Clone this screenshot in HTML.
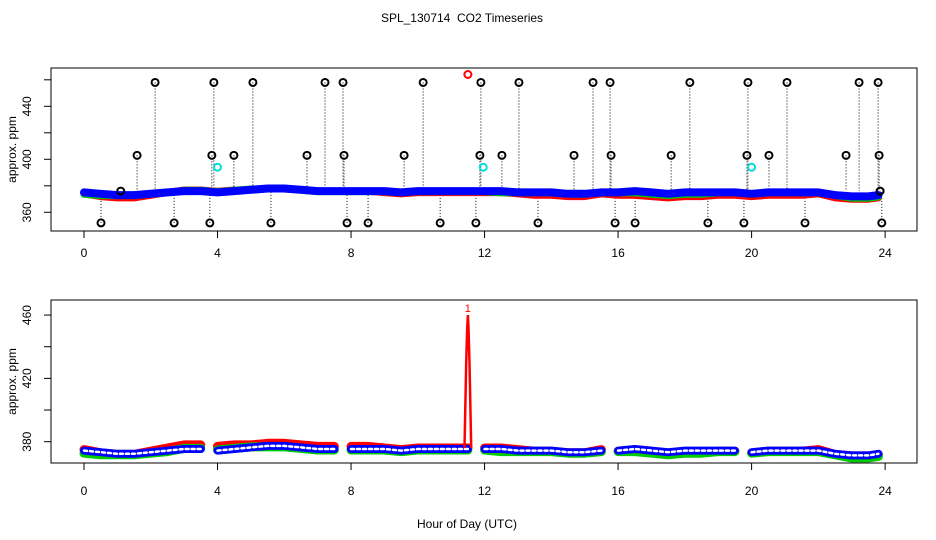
<!DOCTYPE html>
<html><head><meta charset="utf-8"><style>
html,body{margin:0;padding:0;background:#fff;}
svg{display:block;font-family:"Liberation Sans",Arial,sans-serif;}
</style></head><body>
<svg id="chart" width="936" height="540" viewBox="0 0 936 540">
<rect x="0" y="0" width="936" height="540" fill="#fff"/>
<text x="462" y="22" font-size="12" text-anchor="middle" style="white-space:pre">SPL_130714  CO2 Timeseries</text>
<text x="467" y="528" font-size="12" text-anchor="middle">Hour of Day (UTC)</text>
<g id="topPanel"></g>
<g id="botPanel"></g>
</svg>
<script>
var hours=[0,0.5,1,1.5,2,2.5,3,3.5,4,4.5,5,5.5,6,6.5,7,7.5,8,8.5,9,9.5,10,10.5,11,11.5,12,12.5,13,13.5,14,14.5,15,15.5,16,16.5,17,17.5,18,18.5,19,19.5,20,20.5,21,21.5,22,22.5,23,23.5,23.8];
var blueVals=[375,374,373,373,374,375,376,376,375,376,377,378,378,377,376,376,376,376,376,375,376,376,376,376,376,376,375,375,375,374,374,375,375,376,375,374,375,375,375,375,374,375,375,375,375,373,372,372,373];
var redVals=[375,373,372,372,374,376,378,378,377,378,378,379,379,378,377,377,377,377,376,375,376,376,376,376,376,376,375,374,374,373,373,375,374,374,373,372,373,373,374,374,373,374,374,374,375,372,371,371,372];
var greenVals=[374,373,373,373,374,375,377,377,376,377,378,378,378,377,376,376,376,376,376,375,376,376,376,376,376,375,375,375,375,374,374,375,375,375,374,373,374,374,375,375,374,375,375,375,375,373,371,371,372];
var outHours=[2.13,3.89,5.06,7.22,7.76,10.16,11.89,13.03,15.25,15.76,18.15,19.89,21.06,23.22,23.79,1.59,3.83,4.49,6.68,7.79,9.59,11.86,12.52,14.68,15.79,17.59,19.86,20.52,22.83,23.82,0.51,2.70,3.77,5.60,7.88,8.51,10.67,11.74,13.6,15.91,16.51,18.69,19.77,21.6,23.9,1.1,23.85];
var outVals=[458,458,458,458,458,458,458,458,458,458,458,458,458,458,458,403,403,403,403,403,403,403,403,403,403,403,403,403,403,403,352,352,352,352,352,352,352,352,352,352,352,352,352,352,352,376,376];
var cyanHours=[4.0,11.96,20.0];
var cyanVals=[394,394,394];
var redOutHours=[11.5];
var redOutVals=[464];
var gapHours=[3.9,7.9,11.8,15.9,19.9];
var spikeHours=[11.4,11.45,11.48,11.5,11.52,11.55,11.6];
var spikeVals=[376,430,452,460,452,430,376];
var xTicks=[0,4,8,12,16,20,24];
var topYTicks=[360,380,400,420,440,460];
var topYLabels=["360","","400","","440",""];
var botYTicks=[380,400,420,440,460];
var botYLabels=["380","","420","","460"];

var NS="http://www.w3.org/2000/svg";
function mk(tag,attrs,parent){var e=document.createElementNS(NS,tag);for(var k in attrs)e.setAttribute(k,attrs[k]);parent.appendChild(e);return e;}
function xs(h){return 84+h*33.38;}
function topY(v){return 212.3-(v-360)*1.325;}
function botY(v){return 441.7-(v-380)*1.583;}

function axes(g,y0,y1,ys,ticks,labels,labelY){
  var b=mk('rect',{x:51,y:y0,width:866,height:y1-y0,fill:'none',stroke:'#000','stroke-width':1},g);
  
  
  xTicks.forEach(function(t){
    var l=mk('line',{x1:xs(t),x2:xs(t),y1:y1,y2:y1+7,stroke:'#000'},g);
    
    
    var tx=mk('text',{x:xs(t),y:labelY,'font-size':12,'text-anchor':'middle'},g);
    
    
    tx.textContent=String(t);
  });
  ticks.forEach(function(t,i){
    var y=ys(t);
    var l=mk('line',{x1:44,x2:51,y1:y,y2:y,stroke:'#000'},g);
    
    
    if(labels[i]){
      var tx=mk('text',{x:31,y:y,'font-size':12,'text-anchor':'middle',transform:'rotate(-90 31 '+y+')'},g);
      
      
      tx.textContent=labels[i];
    }
  });
  var yt=mk('text',{x:16,y:(y0+y1)/2,'font-size':12,'text-anchor':'middle',transform:'rotate(-90 16 '+((y0+y1)/2)+')'},g);
  
  
  yt.textContent='approx. ppm';
}

function series(g,vals,ys,color,w,offset,breaks,name,dash){
  var segs=[[]];
  for(var i=0;i<hours.length;i++){
    if(breaks&&i>0){for(var j=0;j<gapHours.length;j++){if(hours[i-1]<gapHours[j]&&hours[i]>=gapHours[j]){segs.push([]);}}}
    segs[segs.length-1].push(xs(hours[i]).toFixed(1)+','+(ys(vals[i])+offset).toFixed(1));
  }
  segs.forEach(function(s){
    var at={points:s.join(' '),fill:'none',stroke:color,'stroke-width':w,'stroke-linejoin':'round','stroke-linecap':'round'};
    if(dash)at['stroke-dasharray']=dash;
    var p=mk('polyline',at,g);
    
    
  });
}

var topG=document.getElementById('topPanel');
axes(topG,68,231,topY,topYTicks,topYLabels,257);
for(var i=0;i<outHours.length;i++){
  var x=xs(outHours[i]);
  var ln=mk('line',{x1:x,x2:x,y1:topY(outVals[i]),y2:topY(376),stroke:'#000','stroke-width':1,'stroke-dasharray':'1,2'},topG);
  
  
}
series(topG,redVals,topY,'#f00',7,1.5,false,'red-series');
series(topG,greenVals,topY,'#0c0',7,0.5,false,'green-series');
series(topG,blueVals,topY,'#00f',8,0,false,'blue-series');
for(var i=0;i<outHours.length;i++){
  var c=mk('circle',{cx:xs(outHours[i]),cy:topY(outVals[i]),r:3.5,fill:'none',stroke:'#000','stroke-width':2},topG);
  
  
}
for(var i=0;i<cyanHours.length;i++){
  var c=mk('circle',{cx:xs(cyanHours[i]),cy:topY(cyanVals[i]),r:3.5,fill:'none',stroke:'#0dd','stroke-width':2},topG);
  
  
}
for(var i=0;i<redOutHours.length;i++){
  var c=mk('circle',{cx:xs(redOutHours[i]),cy:topY(redOutVals[i]),r:3.5,fill:'none',stroke:'#f00','stroke-width':2},topG);
  
  
}

var botG=document.getElementById('botPanel');
axes(botG,300,463,botY,botYTicks,botYLabels,495);
series(botG,redVals,botY,'#f00',9,0,true,'red-series');
series(botG,greenVals,botY,'#0c0',9,2,true,'green-series');
series(botG,blueVals,botY,'#00f',8,1,true,'blue-series');
series(botG,blueVals,botY,'#fff',2.5,1,true,'blue-series-core','3,3');
var sp=[];
for(var i=0;i<spikeHours.length;i++){sp.push(xs(spikeHours[i]).toFixed(1)+','+botY(spikeVals[i]).toFixed(1));}
var spl=mk('polyline',{points:sp.join(' '),fill:'none',stroke:'#f00','stroke-width':2.5},botG);


var lab=mk('text',{x:xs(11.5),y:botY(460)-3,'font-size':11,fill:'#f00','text-anchor':'middle'},botG);


lab.textContent='1';
</script>
</body></html>
